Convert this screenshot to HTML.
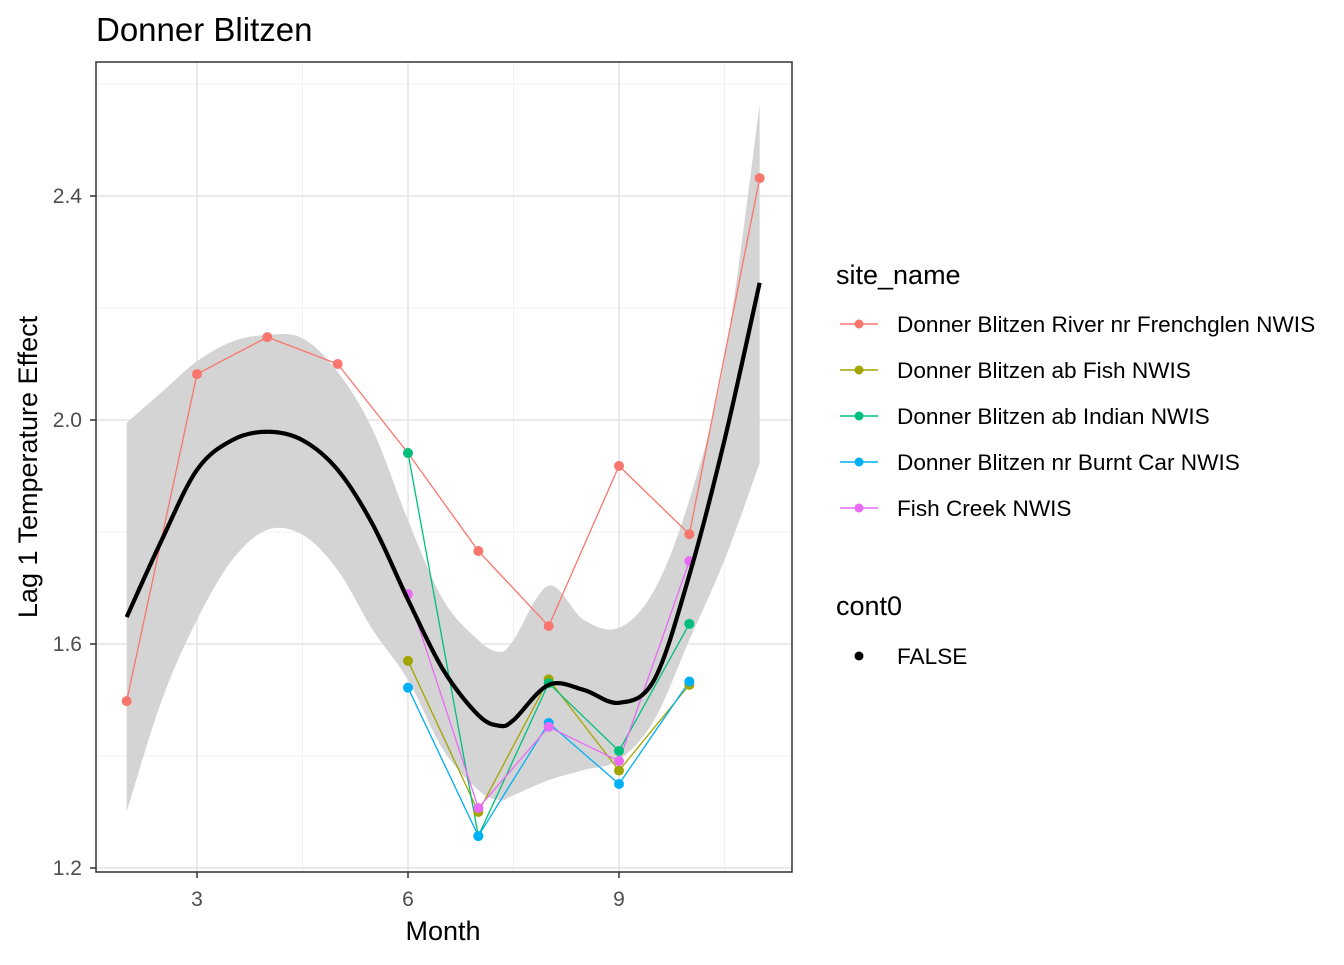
<!DOCTYPE html>
<html><head><meta charset="utf-8"><style>
body{margin:0;background:#fff;font-family:"Liberation Sans",Arial,sans-serif}
svg text{font-family:"Liberation Sans",Arial,sans-serif}
</style></head><body>
<svg id="c" width="1344" height="960" xmlns="http://www.w3.org/2000/svg"></svg>
<script>
const months=[2,3,4,5,6,7,8,9,10,11];
const seriesNames=["Donner Blitzen River nr Frenchglen NWIS","Donner Blitzen ab Fish NWIS","Donner Blitzen ab Indian NWIS","Donner Blitzen nr Burnt Car NWIS","Fish Creek NWIS"];
const seriesColors=["#F8766D","#A3A500","#00BF7D","#00B0F6","#E76BF3"];
const frenchglen=[1.498,2.082,2.148,2.100,1.941,1.766,1.632,1.918,1.796,2.432];
const abFish=[null,null,null,null,1.570,1.300,1.537,1.374,1.527,null];
const abIndian=[null,null,null,null,1.941,1.257,1.530,1.409,1.636,null];
const burntCar=[null,null,null,null,1.522,1.257,1.459,1.350,1.533,null];
const fishCreek=[null,null,null,null,1.689,1.307,1.452,1.391,1.748,null];
const smoothX=[2,2.5,3,3.5,4,4.5,5,5.5,6,6.5,7,7.3,7.5,8,8.5,9,9.5,10,10.5,11];
const smoothY=[1.648,1.786,1.911,1.964,1.979,1.964,1.911,1.813,1.679,1.554,1.473,1.454,1.464,1.527,1.518,1.495,1.536,1.723,1.964,2.245];
const smoothLo=[1.300,1.500,1.643,1.750,1.804,1.795,1.732,1.625,1.536,1.411,1.339,1.321,1.330,1.357,1.375,1.393,1.464,1.607,1.750,1.923];
const smoothHi=[1.995,2.050,2.105,2.140,2.152,2.146,2.086,1.982,1.821,1.679,1.607,1.586,1.607,1.704,1.643,1.629,1.696,1.857,2.107,2.563];
const xTicks=[3,6,9];
const yTicks=[1.2,1.6,2.0,2.4];
const xMinor=[4.5,7.5,10.5];
const yMinor=[1.4,1.8,2.2,2.6];

const svg=document.getElementById('c');
const NS="http://www.w3.org/2000/svg";
const L=96,R=792,T=62,B=872;
const X=v=>197+(v-3)*(211/3);
const Y=v=>868-(v-1.2)*560;
function mk(tag,attrs,parent){const e=document.createElementNS(NS,tag);for(const k in attrs)e.setAttribute(k,attrs[k]);(parent||svg).appendChild(e);return e;}
function smoothPath(pts){let d="M"+pts[0][0]+","+pts[0][1];for(let i=0;i<pts.length-1;i++){const p0=pts[Math.max(0,i-1)],p1=pts[i],p2=pts[i+1],p3=pts[Math.min(pts.length-1,i+2)];const c1=[p1[0]+(p2[0]-p0[0])/6,p1[1]+(p2[1]-p0[1])/6],c2=[p2[0]-(p3[0]-p1[0])/6,p2[1]-(p3[1]-p1[1])/6];d+=" C"+c1+" "+c2+" "+p2;}return d;}

let g=mk('g',{});


xMinor.forEach(v=>mk('line',{x1:X(v),x2:X(v),y1:T,y2:B,stroke:'#f0f0f0','stroke-width':1},g));
yMinor.forEach(v=>mk('line',{x1:L,x2:R,y1:Y(v),y2:Y(v),stroke:'#f0f0f0','stroke-width':1},g));
xTicks.forEach(v=>mk('line',{x1:X(v),x2:X(v),y1:T,y2:B,stroke:'#e4e4e4','stroke-width':1.6},g));
yTicks.forEach(v=>mk('line',{x1:L,x2:R,y1:Y(v),y2:Y(v),stroke:'#e4e4e4','stroke-width':1.6},g));

const up=smoothX.map((x,i)=>[X(x),Y(smoothHi[i])]);
const lo=smoothX.map((x,i)=>[X(x),Y(smoothLo[i])]).reverse();
let band=mk('path',{d:smoothPath(up)+" L"+lo[0]+smoothPath(lo).slice(1).replace(/^[^C]*/,' ')+" Z",fill:'#d4d4d4'});



const allSeries=[frenchglen,abFish,abIndian,burntCar,fishCreek];
allSeries.forEach((s,si)=>{
  const pts=[];months.forEach((m,i)=>{if(s[i]!=null)pts.push([X(m),Y(s[i])]);});
  const pl=mk('polyline',{points:pts.join(' '),fill:'none',stroke:seriesColors[si],'stroke-width':1.3});
  
  
});
allSeries.forEach((s,si)=>{
  months.forEach((m,i)=>{if(s[i]==null)return;
    const c=mk('circle',{cx:X(m),cy:Y(s[i]),r:5,fill:seriesColors[si]});
    
    
  });
});
let sm=mk('path',{d:smoothPath(smoothX.map((x,i)=>[X(x),Y(smoothY[i])])),fill:'none',stroke:'#000','stroke-width':4.2});



let fr=mk('rect',{x:L,y:T,width:R-L,height:B-T,fill:'none',stroke:'#333','stroke-width':1.5});



xTicks.forEach(v=>{
  mk('line',{x1:X(v),x2:X(v),y1:B,y2:B+6,stroke:'#333','stroke-width':1.5});
  const t=mk('text',{x:X(v),y:906,'text-anchor':'middle','font-size':21,fill:'#4d4d4d'});t.textContent=v;
  
  
});
yTicks.forEach(v=>{
  mk('line',{x1:L-6,x2:L,y1:Y(v),y2:Y(v),stroke:'#333','stroke-width':1.5});
  const t=mk('text',{x:L-14,y:Y(v)+7,'text-anchor':'end','font-size':21,fill:'#4d4d4d'});t.textContent=v.toFixed(1);
  
  
});
</script>
<svg width="1344" height="960" style="position:absolute;left:0;top:0" xmlns="http://www.w3.org/2000/svg">
<text x="96" y="41" font-size="33" fill="#000">Donner Blitzen</text>
<text x="443" y="940" font-size="27" text-anchor="middle">Month</text>
<text transform="translate(37,467) rotate(-90)" font-size="27" text-anchor="middle">Lag 1 Temperature Effect</text>
<g font-size="22.6">
<text x="836" y="284" font-size="27">site_name</text>
<g><line x1="840" x2="878" y1="324" y2="324" stroke="#F8766D" stroke-width="1.5"/><circle cx="859" cy="324" r="4.5" fill="#F8766D"/><text x="897" y="332">Donner Blitzen River nr Frenchglen NWIS</text></g>
<g><line x1="840" x2="878" y1="370" y2="370" stroke="#A3A500" stroke-width="1.5"/><circle cx="859" cy="370" r="4.5" fill="#A3A500"/><text x="897" y="378">Donner Blitzen ab Fish NWIS</text></g>
<g><line x1="840" x2="878" y1="416" y2="416" stroke="#00BF7D" stroke-width="1.5"/><circle cx="859" cy="416" r="4.5" fill="#00BF7D"/><text x="897" y="424">Donner Blitzen ab Indian NWIS</text></g>
<g><line x1="840" x2="878" y1="462" y2="462" stroke="#00B0F6" stroke-width="1.5"/><circle cx="859" cy="462" r="4.5" fill="#00B0F6"/><text x="897" y="470">Donner Blitzen nr Burnt Car NWIS</text></g>
<g><line x1="840" x2="878" y1="508" y2="508" stroke="#E76BF3" stroke-width="1.5"/><circle cx="859" cy="508" r="4.5" fill="#E76BF3"/><text x="897" y="516">Fish Creek NWIS</text></g>
<text x="836" y="615" font-size="27">cont0</text>
<g><circle cx="859" cy="656" r="4.5" fill="#000"/><text x="897" y="664">FALSE</text></g>
</g>
</svg>
</body></html>
